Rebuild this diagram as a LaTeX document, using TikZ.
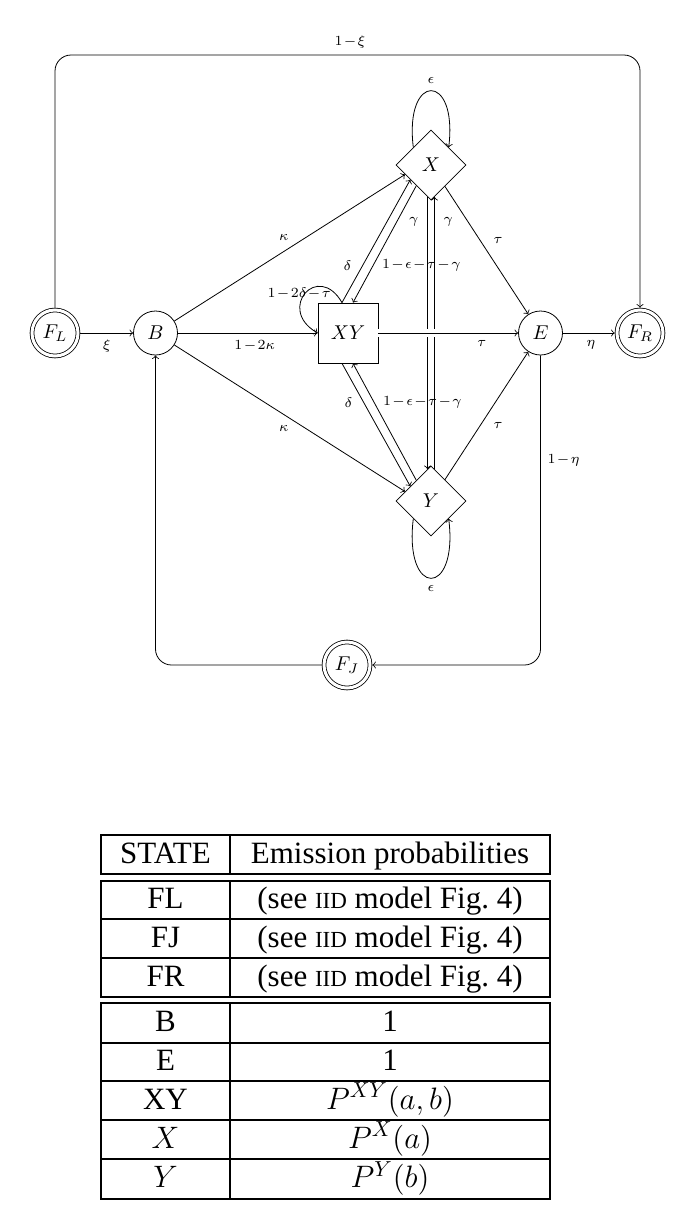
\RequirePackage{fix-cm}
\documentclass[tikz,border=0pt]{standalone}
\usepackage{fontspec}
\newfontfamily\tabfont{Liberation Serif}
\usetikzlibrary{shapes.geometric,calc}
\begin{document}
\begin{tikzpicture}[x=0.5pt,y=0.5pt,>=to,
  st/.style={draw,circle,minimum size=22pt,inner sep=0pt},
  fin/.style={draw,circle,double,double distance=1.5pt,minimum size=23pt,inner sep=0pt,outer sep=1.15pt},
  dia/.style={draw,diamond,aspect=1,minimum size=35pt,inner sep=0pt},
  sq/.style={draw,rectangle,minimum size=30pt,inner sep=0pt},
  lbl/.style={font={\scriptsize\medmuskip=1.5mu}},
  tabline/.style={line width=0.6pt},
  tabtxt/.style={font=\tabfont\fontsize{15.5}{18}\selectfont,anchor=base,inner sep=0pt}
]
\fill[white] (0,0) rectangle (685,-1227);
\useasboundingbox (0,0) rectangle (685,-1227);

% states
\node[fin] (FL) at (55,-333) {$F_L$};
\node[st]  (B)  at (155.5,-333) {$B$};
\node[sq]  (XY) at (348,-333) {$XY$};
\node[dia] (X)  at (431,-165) {$X$};
\node[dia] (Y)  at (431,-501) {$Y$};
\node[st]  (E)  at (540.5,-333) {$E$};
\node[fin] (FR) at (640,-333) {$F_R$};
\node[fin] (FJ) at (347,-665) {$F_J$};
\coordinate (top) at (350,-55);

% outer transitions
\draw[->,rounded corners=8pt] (FL) |- (top) node[lbl,above]{$1-\xi$} -| (FR);
\draw[->,rounded corners=8pt] (E) |- node[lbl,right,pos=0.17]{$1-\eta$} (FJ);
\draw[->,rounded corners=8pt] (FJ) -| (B);

\draw[->] (FL) -- node[lbl,below]{$\xi$} (B);
\draw[->] (B) -- node[lbl,below,pos=0.55]{$1-2\kappa$} (XY);
\draw[->] (B) -- node[lbl,above,xshift=-3pt]{$\kappa$} (X.200);
\draw[->] (B) -- node[lbl,below,xshift=-3pt]{$\kappa$} (Y.160);
\draw[->] (E) -- node[lbl,below,pos=0.54]{$\eta$} (FR);
\draw[->] (X) -- node[lbl,above right]{$\tau$} (E);
\draw[->] (Y) -- node[lbl,below right]{$\tau$} (E);

% X <-> Y
\draw[->] ([shift={(-1.75pt,1.75pt)}]X.south) -- node[lbl,left=1pt,pos=0.093]{$\gamma$} ([shift={(-1.75pt,-1.75pt)}]Y.north);
\draw[->] ([shift={(1.75pt,-1.75pt)}]Y.north) -- node[lbl,right=1pt,pos=0.907]{$\gamma$} ([shift={(1.75pt,1.75pt)}]X.south);

% XY -> E (crossing over the vertical pair)
\draw[white,line width=4pt] (XY.east) -- (E.west);
\draw[->] (XY) -- node[lbl,below,pos=0.74]{$\tau$} (E);

% XY <-> X
\draw[->] ([xshift=-3pt]XY.north) -- node[lbl,left=2pt,pos=0.3]{$\delta$} ([shift={(-1.5pt,1.5pt)}]X.south west);
\draw[->] ([shift={(1.5pt,-1.5pt)}]X.south west) -- node[lbl,right=1pt,pos=0.685]{$1-\epsilon-\tau-\gamma$} ([xshift=2.5pt]XY.north);
% XY <-> Y
\draw[->] ([xshift=-3pt]XY.south) -- node[lbl,left=2pt,pos=0.316]{$\delta$} ([shift={(-1.5pt,-1.5pt)}]Y.north west);
\draw[->] ([shift={(1.5pt,1.5pt)}]Y.north west) -- node[lbl,right=1pt,pos=0.668]{$1-\epsilon-\tau-\gamma$} ([xshift=2.5pt]XY.south);

% self loops
\draw[->] (X.north west) .. controls +(97:38pt) and +(83:38pt) .. (X.north east) node[lbl,above,pos=0.5]{$\epsilon$};
\draw[->] (Y.south west) .. controls +(-97:40pt) and +(-83:40pt) .. (Y.south east) node[lbl,below,pos=0.5]{$\epsilon$};
\draw[->] ([xshift=-3pt]XY.north) .. controls +(120:24pt) and +(150:24pt) .. (XY.west) node[lbl,pos=0.5,xshift=-3pt]{$1-2\delta-\tau$};

% table
\draw[tabline] (101,-835) rectangle (550,-874);
\draw[tabline] (230,-835) -- (230,-874);
\draw[tabline] (101,-881) rectangle (550,-997);
\draw[tabline] (230,-881) -- (230,-997);
\draw[tabline] (101,-919) -- (550,-919);
\draw[tabline] (101,-958) -- (550,-958);
\draw[tabline] (101,-1003) rectangle (550,-1199);
\draw[tabline] (230,-1003) -- (230,-1199);
\foreach \yy in {1043,1081,1120,1159} \draw[tabline] (101,-\yy) -- (550,-\yy);

\node[tabtxt] (h1) at (165.5,-863) {STATE};
\node[tabtxt] (h2) at (390,-863) {Emission probabilities};
\node[tabtxt] (r1a) at (165.5,-908.5) {FL};
\node[tabtxt] (r1b) at (390,-908.5) {(see {\fontsize{11.5}{12}\selectfont IID} model Fig.~4)};
\node[tabtxt] (r2a) at (165.5,-947) {FJ};
\node[tabtxt] (r2b) at (390,-947) {(see {\fontsize{11.5}{12}\selectfont IID} model Fig.~4)};
\node[tabtxt] (r3a) at (165.5,-986) {FR};
\node[tabtxt] (r3b) at (390,-986) {(see {\fontsize{11.5}{12}\selectfont IID} model Fig.~4)};
\node[tabtxt] (r4a) at (165.5,-1031.5) {B};
\node[tabtxt] (r4b) at (390,-1031.5) {1};
\node[tabtxt] (r5a) at (165.5,-1070.5) {E};
\node[tabtxt] (r5b) at (390,-1070.5) {1};
\node[tabtxt] (r6a) at (165.5,-1109) {XY};
\node[tabtxt] (r6b) at (390,-1109) {$P^{XY}(a,b)$};
\node[tabtxt] (r7a) at (165.5,-1148) {$X$};
\node[tabtxt] (r7b) at (390,-1148) {$P^{X}(a)$};
\node[tabtxt] (r8a) at (165.5,-1187.5) {$Y$};
\node[tabtxt] (r8b) at (390,-1187.5) {$P^{Y}(b)$};
\end{tikzpicture}
\end{document}
